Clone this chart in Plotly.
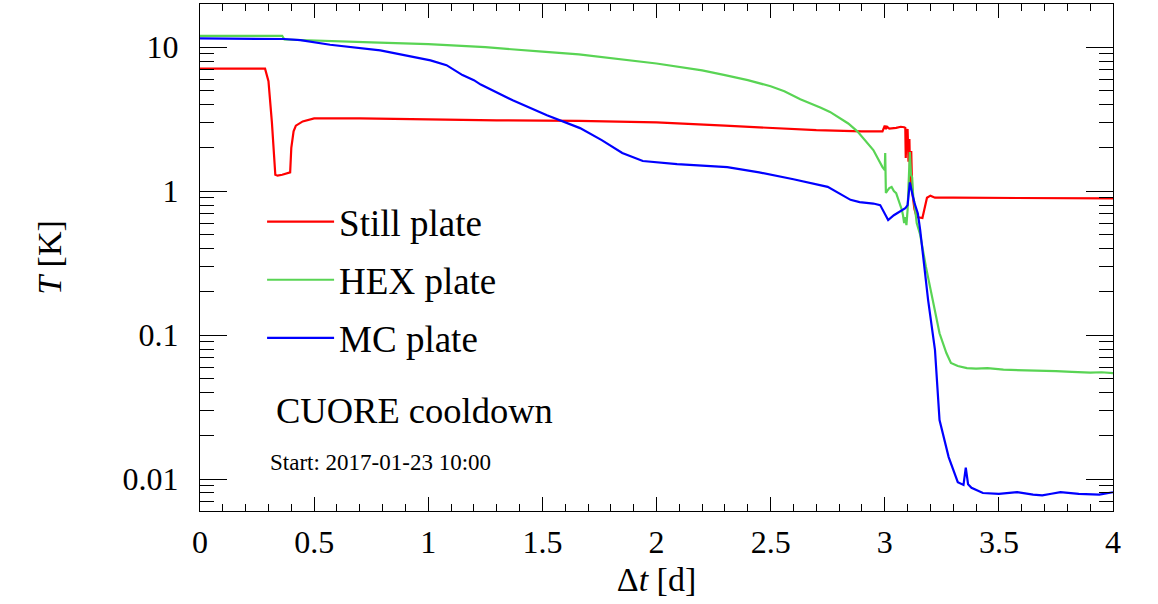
import plotly.graph_objects as go

# ---------------- data ----------------
still_t = [0, 0.285, 0.30, 0.315, 0.33, 0.34, 0.36, 0.38, 0.395, 0.40, 0.41, 0.42, 0.45, 0.50,
           0.7, 1.0, 1.3, 1.66, 2.0, 2.3, 2.5, 2.7, 2.9, 2.96, 2.99, 3.0, 3.005, 3.01, 3.02,
           3.05, 3.07, 3.085, 3.09, 3.092, 3.096, 3.10, 3.104, 3.108, 3.112, 3.116, 3.12,
           3.13, 3.14, 3.165, 3.175, 3.185, 3.2, 3.22, 3.3, 3.5, 3.7, 4.0]
still_T = [7.1, 7.1, 5.8, 3.0, 1.3, 1.28, 1.30, 1.33, 1.35, 2.0, 2.6, 2.85, 3.05, 3.2,
           3.2, 3.15, 3.1, 3.08, 3.0, 2.85, 2.75, 2.65, 2.6, 2.58, 2.6, 2.85, 2.7, 2.8, 2.72,
           2.75, 2.8, 2.78, 2.75, 1.7, 2.6, 2.7, 1.6, 2.3, 1.1, 1.9, 1.0,
           0.75, 0.66, 0.65, 0.75, 0.9, 0.93, 0.9, 0.9, 0.9, 0.89, 0.89]

hex_t = [0, 0.36, 0.37, 0.5, 0.75, 1.0, 1.25, 1.5, 1.66, 2.0, 2.1, 2.2, 2.3, 2.4, 2.5, 2.56,
         2.63, 2.68, 2.72, 2.76, 2.80, 2.84, 2.88, 2.92, 2.95, 2.99, 3.0, 3.002, 3.005, 3.01,
         3.02, 3.03, 3.04, 3.05, 3.06, 3.075, 3.08, 3.085, 3.09, 3.095, 3.10, 3.105, 3.11,
         3.115, 3.12, 3.125, 3.13, 3.14, 3.155, 3.18, 3.21, 3.24, 3.27, 3.29, 3.32, 3.36,
         3.40, 3.45, 3.52, 3.6, 3.68, 3.75, 3.82, 3.9, 3.95, 4.0]
hex_T = [12.0, 12.0, 11.3, 11.1, 10.8, 10.5, 10.0, 9.3, 8.9, 7.7, 7.3, 6.9, 6.4, 5.9, 5.35, 4.95,
         4.35, 4.05, 3.8, 3.55, 3.25, 2.95, 2.6, 2.2, 1.93, 1.47, 1.4, 1.84, 0.97, 1.0,
         1.05, 1.07, 1.0, 0.97, 0.88, 0.74, 0.68, 0.6, 0.66, 0.58, 0.74, 1.2, 1.87,
         1.3, 1.25, 0.9, 0.83, 0.6, 0.5, 0.3, 0.175, 0.103, 0.075, 0.064, 0.061, 0.059,
         0.0585, 0.059, 0.0575, 0.0572, 0.0565, 0.0562, 0.0555, 0.0548, 0.0552, 0.0545]

mc_t = [0, 0.36, 0.37, 0.44, 0.57, 0.79, 0.935, 1.01, 1.08, 1.15, 1.20, 1.23, 1.37, 1.52,
        1.665, 1.76, 1.85, 1.94, 2.09, 2.31, 2.45, 2.6, 2.75, 2.85, 2.89, 2.92, 2.95, 2.98,
        3.015, 3.04, 3.06, 3.09, 3.10, 3.11, 3.12, 3.13, 3.145, 3.155, 3.19, 3.22, 3.24,
        3.28, 3.32, 3.345, 3.355, 3.365, 3.38, 3.43, 3.5, 3.58, 3.65, 3.69, 3.73, 3.77,
        3.85, 3.94, 4.0]
mc_T = [11.5, 11.5, 11.4, 11.2, 10.4, 9.5, 8.6, 8.1, 7.5, 6.4, 5.9, 5.5, 4.28, 3.37,
        2.74, 2.26, 1.84, 1.62, 1.54, 1.47, 1.35, 1.21, 1.07, 0.87, 0.84, 0.83, 0.82, 0.8,
        0.63, 0.68, 0.71, 0.76, 0.8, 1.15, 0.97, 0.83, 0.7, 0.54, 0.175, 0.079, 0.0257,
        0.0142, 0.0095, 0.0091, 0.012, 0.0092, 0.0087, 0.008, 0.0079, 0.0081, 0.0078, 0.0077,
        0.0079, 0.0081, 0.0079, 0.0078, 0.0081]

series_names = ["Still plate", "HEX plate", "MC plate"]
series_colors = ["#ff0000", "#59d454", "#0000ff"]

x_tickvals = [0, 0.5, 1, 1.5, 2, 2.5, 3, 3.5, 4]
x_ticktext = ["0", "0.5", "1", "1.5", "2", "2.5", "3", "3.5", "4"]
y_tickvals = [0.01, 0.1, 1, 10]
y_ticktext = ["0.01", "0.1", "1", "10"]
y_minorvals = [m * 10 ** e for e in (-3, -2, -1, 0, 1) for m in range(2, 10)]

FONT = "Liberation Serif"

fig = go.Figure()
for name, tt, TT, col in zip(series_names, [still_t, hex_t, mc_t],
                             [still_T, hex_T, mc_T], series_colors):
    fig.add_trace(go.Scatter(x=tt, y=TT, mode="lines", name=name, legendgroup=name,
                             line=dict(color=col, width=2.2)))

axis_common = dict(showgrid=False, zeroline=False, showline=True, linecolor="black",
                   linewidth=1.2, mirror="allticks", ticks="inside", tickcolor="black",
                   tickwidth=1, automargin=False,
                   tickfont=dict(family=FONT, size=32, color="black"))

fig.update_xaxes(range=[0, 4], tickvals=x_tickvals, ticktext=x_ticktext, ticklen=14,
                 minor=dict(ticks="inside", ticklen=7, dtick=0.1, tickcolor="black", tickwidth=1),
                 title=dict(text="Δ<i>t</i> [d]", font=dict(family=FONT, size=34, color="black"),
                            standoff=8),
                 ticklabelstandoff=2, **axis_common)
fig.update_yaxes(type="log", range=[-2.222, 1.30], tickvals=y_tickvals, ticktext=y_ticktext,
                 ticklen=27,
                 minor=dict(ticks="inside", ticklen=14, tickvals=y_minorvals, tickcolor="black",
                            tickwidth=1),
                 title=dict(text="<i>T</i> [K]", font=dict(family=FONT, size=34, color="black"),
                            standoff=50),
                 ticklabelstandoff=14, **axis_common)

fig.add_annotation(text="CUORE cooldown", xref="paper", yref="paper", x=0.081, y=0.199,
                   xanchor="left", yanchor="middle", showarrow=False,
                   font=dict(family=FONT, size=36.5, color="black"))
fig.add_annotation(text="Start: 2017-01-23 10:00", xref="paper", yref="paper", x=0.0745,
                   y=0.0966, xanchor="left", yanchor="middle", showarrow=False,
                   font=dict(family=FONT, size=23, color="black"))

fig.update_layout(
    width=1158, height=604,
    margin=dict(l=200, r=45, t=4, b=93, autoexpand=False),
    plot_bgcolor="white", paper_bgcolor="white",
    legend=dict(x=0.068, y=0.631, xanchor="left", yanchor="top", traceorder="grouped",
                tracegroupgap=7, itemwidth=67, bgcolor="rgba(0,0,0,0)",
                font=dict(family=FONT, size=37, color="black")),
)

fig.write_html("out.html", config={"displayModeBar": False},
               post_script="document.body.style.margin='0px';document.body.style.overflow='hidden';")
